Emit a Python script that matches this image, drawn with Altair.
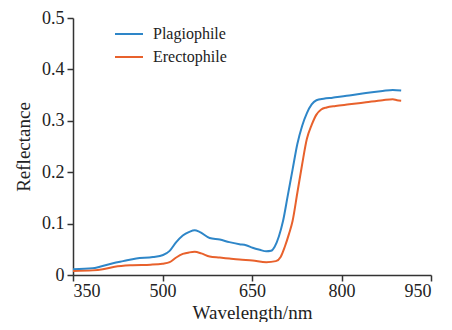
import altair as alt
import pandas as pd

wl_p = [350, 383, 395, 417, 434, 456, 484, 501, 512, 523, 534, 545, 554, 562, 579, 596, 612, 629,
        640, 651, 663, 674, 682, 688, 695, 702, 710, 718, 726, 734, 742, 750, 758, 770, 785, 813,
        841, 869, 886, 900]
r_p = [0.011, 0.013, 0.016, 0.023, 0.027, 0.032, 0.035, 0.039, 0.047, 0.064, 0.077, 0.084, 0.087,
       0.084, 0.072, 0.069, 0.064, 0.060, 0.058, 0.053, 0.049, 0.046, 0.047, 0.055, 0.075, 0.105,
       0.155, 0.205, 0.255, 0.290, 0.315, 0.332, 0.340, 0.343, 0.345, 0.349, 0.354, 0.358, 0.360,
       0.359]

wl_e = [350, 383, 400, 420, 450, 480, 500, 512, 523, 534, 545, 554, 565, 579, 596, 612, 629, 651,
        674, 690, 698, 705, 712, 718, 726, 734, 742, 750, 758, 766, 775, 790, 813, 841, 869, 886,
        893, 900]
r_e = [0.008, 0.009, 0.011, 0.016, 0.019, 0.020, 0.022, 0.025, 0.034, 0.041, 0.044, 0.045, 0.042,
       0.036, 0.034, 0.032, 0.030, 0.028, 0.025, 0.027, 0.035, 0.055, 0.080, 0.105, 0.160, 0.215,
       0.265, 0.292, 0.312, 0.322, 0.326, 0.329, 0.332, 0.336, 0.340, 0.342, 0.340, 0.339]

series = ["Plagiophile", "Erectophile"]
colors = ["#2E86C8", "#E8612C"]

df = pd.concat([
    pd.DataFrame({"wl": wl_p, "r": r_p, "s": series[0]}),
    pd.DataFrame({"wl": wl_e, "r": r_e, "s": series[1]}),
])

font = "Liberation Serif"
axis_style = dict(
    grid=False, domainColor="#333", domainWidth=1.5, tickColor="#333", tickWidth=1.5, tickSize=6,
    labelFont=font, labelFontSize=18, labelColor="#222", titleFont=font, titleFontSize=19,
    titleFontWeight="normal", titleColor="#222",
)

chart = alt.Chart(df).mark_line(strokeWidth=2, interpolate="monotone").encode(
    x=alt.X("wl:Q", scale=alt.Scale(domain=[350, 950], nice=False),
            axis=alt.Axis(title="Wavelength/nm", values=[350, 500, 650, 800, 950],
                          labelPadding=1, titleY=43, titleBaseline="alphabetic", **axis_style)),
    y=alt.Y("r:Q", scale=alt.Scale(domain=[0, 0.5], nice=False),
            axis=alt.Axis(title="Reflectance", values=[0, 0.1, 0.2, 0.3, 0.4, 0.5],
                          labelExpr="datum.value == 0 ? '0' : format(datum.value, '.1f')",
                          labelPadding=3, titlePadding=8, **axis_style)),
    color=alt.Color("s:N", scale=alt.Scale(domain=series, range=colors),
                    legend=alt.Legend(title=None, orient="none", legendX=41, legendY=1,
                                      symbolType="stroke", symbolSize=784, symbolStrokeWidth=2,
                                      labelFont=font, labelFontSize=16, labelColor="#222",
                                      rowPadding=-4, labelOffset=9)),
    detail="s:N",
    order="wl:Q",
).properties(
    width=358, height=257,
    autosize=alt.AutoSizeParams(type="none"),
    padding={"left": 65, "top": 10, "right": 13, "bottom": 47},
).configure(font=font).configure_view(stroke=None)

chart.save("out.html", embed_options={"renderer": "svg", "actions": False})
